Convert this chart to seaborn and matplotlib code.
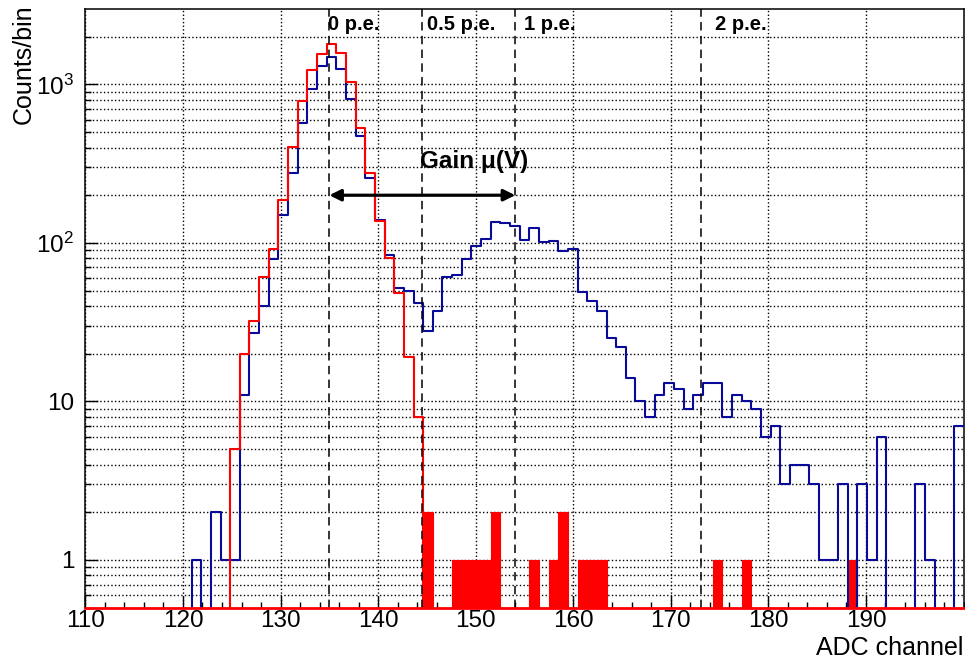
import matplotlib
matplotlib.use('Agg')
import matplotlib.pyplot as plt
import seaborn as sns
import numpy as np
import pandas as pd
from matplotlib.ticker import FixedLocator, FixedFormatter, MultipleLocator, LogLocator, NullFormatter

# histogram: 91 bins between 110 and 200 ADC channels
edges = np.linspace(110, 200, 92)
centers = 0.5 * (edges[:-1] + edges[1:])

# LED run (blue), counts per bin
blue_counts = [0, 0, 0, 0, 0, 0, 0, 0, 0, 0,
               0, 1, 0, 2, 1, 1, 11, 27, 40, 79,
               150, 275, 569, 933, 1316, 1480, 1260, 807, 473, 256,
               140, 84, 52, 50, 42, 28, 37, 61, 63, 79,
               95, 106, 136, 134, 127, 105, 124, 102, 103, 89,
               91, 49, 43, 37, 25, 22, 14, 10, 8, 11,
               13, 12, 9, 11, 13, 13, 8, 11, 10, 9,
               6, 7, 3, 4, 4, 3, 1, 1, 3, 0,
               3, 1, 6, 0, 0, 0, 3, 1, 0, 0,
               7]

# pedestal run (red line)
red_counts = [0, 0, 0, 0, 0, 0, 0, 0, 0, 0,
              0, 0, 0, 0, 0, 5, 20, 32, 61, 91,
              186, 405, 787, 1234, 1550, 1802, 1574, 1042, 530, 275,
              138, 80, 48, 19, 8] + [0] * 56

# pedestal run above 0.5 p.e. (red filled)
red_tail = [0] * 91
for b, c in {35: 2, 38: 1, 39: 1, 40: 1, 41: 1, 42: 2, 46: 1, 48: 1, 49: 2,
             51: 1, 52: 1, 53: 1, 65: 1, 68: 1, 79: 1}.items():
    red_tail[b] = c

pedestal = 135.0
gain = 19.05
pe_multiples = [0, 0.5, 1, 2]
pe_labels = ['0 p.e.', '0.5 p.e.', '1 p.e.', '2 p.e.']

x_ticks = [110, 120, 130, 140, 150, 160, 170, 180, 190]
y_ticks = [1, 10, 100, 1000]
y_ticklabels = ['1', '10', '$10^{2}$', '$10^{3}$']

df = pd.DataFrame({'adc': centers, 'led': blue_counts, 'ped': red_counts, 'tail': red_tail})

sns.set_style('ticks')
plt.rcParams['font.family'] = ['Liberation Sans', 'DejaVu Sans']
plt.rcParams['mathtext.fontset'] = 'custom'
plt.rcParams['mathtext.rm'] = 'Liberation Sans'
plt.rcParams['mathtext.it'] = 'Liberation Sans:italic'
plt.rcParams['mathtext.bf'] = 'Liberation Sans:bold'
for k in ['text.color', 'axes.labelcolor', 'xtick.color', 'ytick.color']:
    plt.rcParams[k] = 'black'

fig = plt.figure(figsize=(9.65, 6.63), dpi=100)
ax = fig.add_axes([0.0885, 0.0834, 0.91, 0.9023])

blue = '#0a0a9a'
sns.histplot(data=df, x='adc', weights='tail', bins=list(edges), element='bars', fill=True,
             color='red', alpha=1, edgecolor='red', linewidth=0.8, ax=ax, zorder=3)
sns.histplot(data=df, x='adc', weights='led', bins=list(edges), element='step', fill=False,
             color=blue, linewidth=1.5, ax=ax, zorder=4)
sns.histplot(data=df, x='adc', weights='ped', bins=list(edges), element='step', fill=False,
             color='red', linewidth=1.5, ax=ax, zorder=5)

ax.set_yscale('log')
ax.set_xlim(110, 200)
ax.set_ylim(0.5, 2970)

# p.e. positions
for m in pe_multiples:
    ax.axvline(pedestal + m * gain, color='black', lw=1.1, ls=(0, (5.5, 3.5)), zorder=6)
for lab, xl in zip(pe_labels, [134.9, 145.0, 155.0, 174.5]):
    ax.text(xl, 0.975, lab, transform=ax.get_xaxis_transform(), ha='left', va='center',
            fontsize=14.5, fontweight='bold', zorder=7)

# gain arrow
ax.annotate('', xy=(pedestal, 200), xytext=(pedestal + gain, 200),
            arrowprops=dict(arrowstyle='<|-|>', color='black', lw=2.3, mutation_scale=17,
                            shrinkA=0, shrinkB=0), zorder=7)
ax.text(144.3, 325, 'Gain μ(V)', ha='left', va='center', fontsize=17.5, fontweight='bold', zorder=7)

# axes / ticks in ROOT style
ax.xaxis.set_major_locator(FixedLocator(x_ticks))
ax.xaxis.set_minor_locator(MultipleLocator(2))
ax.yaxis.set_major_locator(FixedLocator(y_ticks))
ax.yaxis.set_major_formatter(FixedFormatter(y_ticklabels))
ax.yaxis.set_minor_locator(LogLocator(base=10, subs=np.arange(2, 10)))
ax.yaxis.set_minor_formatter(NullFormatter())
ax.tick_params(which='both', direction='in', top=False, right=False, color='black')
ax.tick_params(which='major', length=9, width=1)
ax.tick_params(which='minor', length=4.5, width=1)
ax.tick_params(axis='x', which='major', labelsize=17.5, pad=2)
ax.tick_params(axis='y', which='major', labelsize=17.5, pad=8)

ax.grid(True, axis='x', which='major', color='black', ls=':', lw=1.0)
ax.grid(True, axis='y', which='both', color='black', ls=':', lw=1.0)
ax.set_axisbelow(True)

for s in ax.spines.values():
    s.set_color('black')
    s.set_linewidth(1.1)
ax.spines['bottom'].set_color('red')
ax.spines['bottom'].set_linewidth(2)
ax.spines['bottom'].set_zorder(8)

ax.set_xlabel('ADC channel', fontsize=18, loc='right')
ax.xaxis.set_label_coords(1.0, -0.047)
ax.set_ylabel('Counts/bin', fontsize=18, loc='top')
ax.yaxis.set_label_coords(-0.057, 1.008)

fig.savefig('out.png', dpi=100)
